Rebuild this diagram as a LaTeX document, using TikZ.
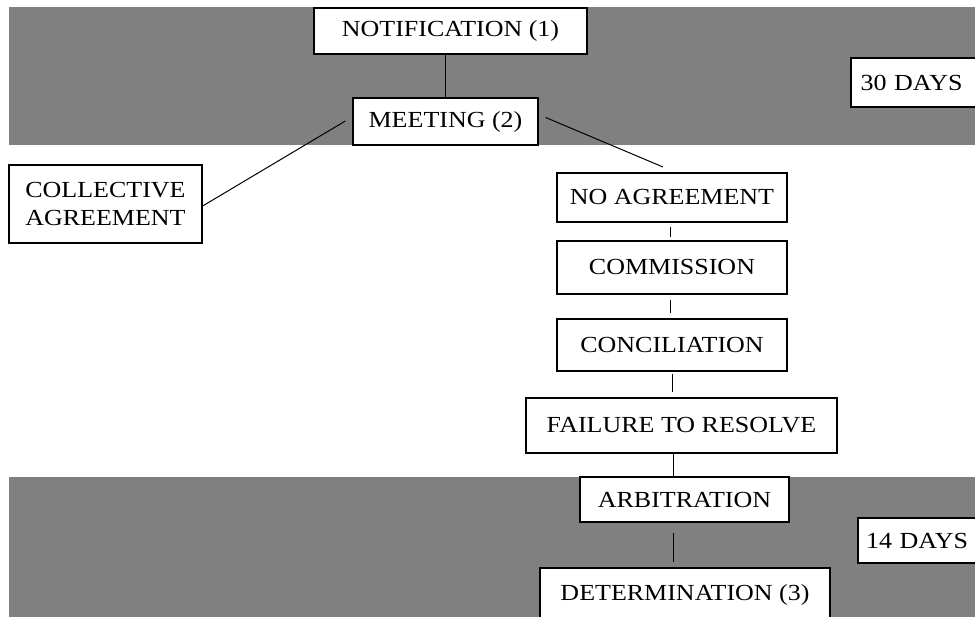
\documentclass[tikz,border=0pt]{standalone}
\usepackage{fontspec}
\setmainfont{Liberation Serif}[FakeStretch=1.13]
\definecolor{bandgray}{HTML}{808080}
\begin{document}
\begin{tikzpicture}[x=1pt,y=-1pt,
  box/.style={draw=black, line width=1.3pt, fill=white, inner sep=0pt,
    font=\fontsize{23}{28}\selectfont},
  conn/.style={draw=black, line width=1pt}]
\useasboundingbox (0,0) rectangle (975,617);
\clip (0,0) rectangle (975,617);
\fill[bandgray] (9,7) rectangle (975,145);
\fill[bandgray] (9,477) rectangle (975,617);

\node[box, minimum width=273pt, minimum height=46pt] (notif) at (450.5,31) {NOTIFICATION (1)};
\node[box, minimum width=185pt, minimum height=47pt] (meet) at (445.5,121.5) {MEETING (2)};
\node[box, minimum width=193pt, minimum height=78pt, align=left] (coll) at (105.5,204) {COLLECTIVE\\AGREEMENT};
\node[box, minimum width=230pt, minimum height=49pt] (noag) at (672,197.5) {NO AGREEMENT};
\node[box, minimum width=230pt, minimum height=53pt] (comm) at (672,267.5) {COMMISSION};
\node[box, minimum width=230pt, minimum height=52pt] (conc) at (672,345) {CONCILIATION};
\node[box, minimum width=311pt, minimum height=55pt] (fail) at (681.5,425.5) {FAILURE TO RESOLVE};
\node[box, minimum width=209pt, minimum height=45pt] (arb) at (684.5,499.5) {ARBITRATION};
\node[box, minimum width=290pt, minimum height=54pt] (det) at (685,595) {DETERMINATION (3)};
\node[box, minimum width=139pt, minimum height=49pt, text width=120pt, align=left] (d30) at (920.5,82.5) {30 DAYS};
\node[box, minimum width=132pt, minimum height=45pt, text width=116pt, align=left] (d14) at (924,540.5) {14 DAYS};

\coordinate (mr) at (663,167);
\draw[conn] (meet.north) -- (meet.north |- notif.south);
\draw[conn] ([xshift=-7pt,yshift=0.5pt]meet.west) -- ([yshift=-2pt]coll.east);
\draw[conn] ([xshift=7pt,yshift=4pt]meet.east) -- (mr);
\draw[conn, shorten <=4pt, shorten >=3pt] ([xshift=-2pt]noag.south) -- ([xshift=-2pt]comm.north);
\draw[conn, shorten <=5pt, shorten >=5pt] ([xshift=-2pt]comm.south) -- ([xshift=-2pt]conc.north);
\draw[conn, shorten <=2pt, shorten >=5pt] (conc.south) -- (conc.south |- fail.north);
\draw[conn] ([xshift=-8.5pt]fail.south) -- ([xshift=-11.5pt]arb.north);
\draw[conn, shorten <=10pt, shorten >=5pt] ([xshift=-11.5pt]arb.south) -- ([xshift=-11.5pt]arb.south |- det.north);
\end{tikzpicture}
\end{document}
